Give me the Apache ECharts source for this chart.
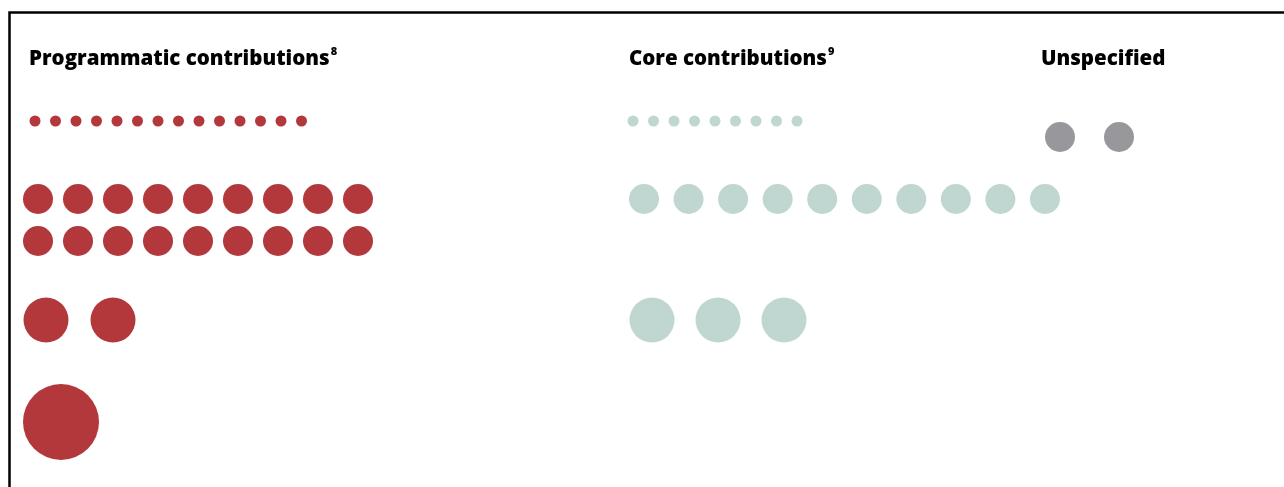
<!DOCTYPE html>
<html>
<head>
<meta charset="utf-8">
<script src="https://cdn.jsdelivr.net/npm/echarts@6/dist/echarts.min.js"></script>
<style>
html,body{margin:0;padding:0;background:#fff;}
#chart{width:1284px;height:487px;}
</style>
</head>
<body>
<div id="chart"></div>
<script>
// ---- data ----
const groups = ['Programmatic contributions', 'Core contributions', 'Unspecified'];
const groupNotes = ['8', '9', ''];
const tiers = ['Tier 1', 'Tier 2', 'Tier 3', 'Tier 4'];
const programmaticCounts = [14, 18, 2, 1];
const coreCounts = [9, 10, 3, 0];
const unspecifiedCounts = [0, 2, 0, 0];

// ---- layout / style (pixel units on hidden axes) ----
const colors = ['#B3383C', '#BFD7D0', '#98989C'];
const tierSize = [11, 30, 45, 76];
const tierRowGap = [0, 42, 0, 0];
const groupLayout = [
  { titleX: 30, startX: [35, 38, 46, 61], spacing: [20.5, 40, 67, 0], rowY: [121, 199, 320, 422], perRow: [99, 9, 99, 99] },
  { titleX: 630, startX: [633, 644, 652, 0], spacing: [20.5, 44.55, 66, 0], rowY: [121, 199, 320, 422], perRow: [99, 99, 99, 99] },
  { titleX: 1042, startX: [0, 1060, 0, 0], spacing: [0, 59, 0, 0], rowY: [121, 137, 320, 422], perRow: [99, 99, 99, 99] }
];
const allCounts = [programmaticCounts, coreCounts, unspecifiedCounts];

const series = groups.map((g, gi) => {
  const L = groupLayout[gi];
  const data = [];
  allCounts[gi].forEach((n, ti) => {
    for (let i = 0; i < n; i++) {
      const col = i % L.perRow[ti];
      const row = Math.floor(i / L.perRow[ti]);
      data.push({
        value: [L.startX[ti] + col * L.spacing[ti], L.rowY[ti] + row * tierRowGap[ti]],
        symbolSize: tierSize[ti],
        name: tiers[ti]
      });
    }
  });
  return {
    type: 'scatter',
    name: g,
    data: data,
    symbol: 'circle',
    itemStyle: { color: colors[gi], opacity: 1 },
    emphasis: { disabled: true },
    silent: true,
    animation: false
  };
});

const titles = groups.map((g, gi) => ({
  text: groupNotes[gi] ? '{t|' + g + '}{s|' + groupNotes[gi] + '}' : '{t|' + g + '}',
  left: groupLayout[gi].titleX - 1,
  top: 46,
  padding: 0,
  textStyle: {
    rich: {
      t: { fontFamily: 'Open Sans', fontWeight: 800, fontSize: 20.5, color: '#000', lineHeight: 26 },
      s: { fontFamily: 'Open Sans', fontWeight: 800, fontSize: 11, color: '#000', verticalAlign: 'top', lineHeight: 26, padding: [0, 0, 12, 1] }
    }
  }
}));

const chart = echarts.init(document.getElementById('chart'), null, { renderer: 'canvas' });
chart.setOption({
  animation: false,
  backgroundColor: '#fff',
  title: titles,
  grid: { left: 0, right: 0, top: 0, bottom: 0, containLabel: false },
  xAxis: { type: 'value', min: 0, max: 1284, show: false },
  yAxis: { type: 'value', min: 0, max: 487, inverse: true, show: false },
  graphic: [{
    type: 'polyline',
    shape: { points: [[9.5, 487], [9.5, 12.5], [1284, 12.5]] },
    style: { stroke: '#000', lineWidth: 2.5, fill: null },
    silent: true
  }],
  series: series
});
</script>
</body>
</html>
